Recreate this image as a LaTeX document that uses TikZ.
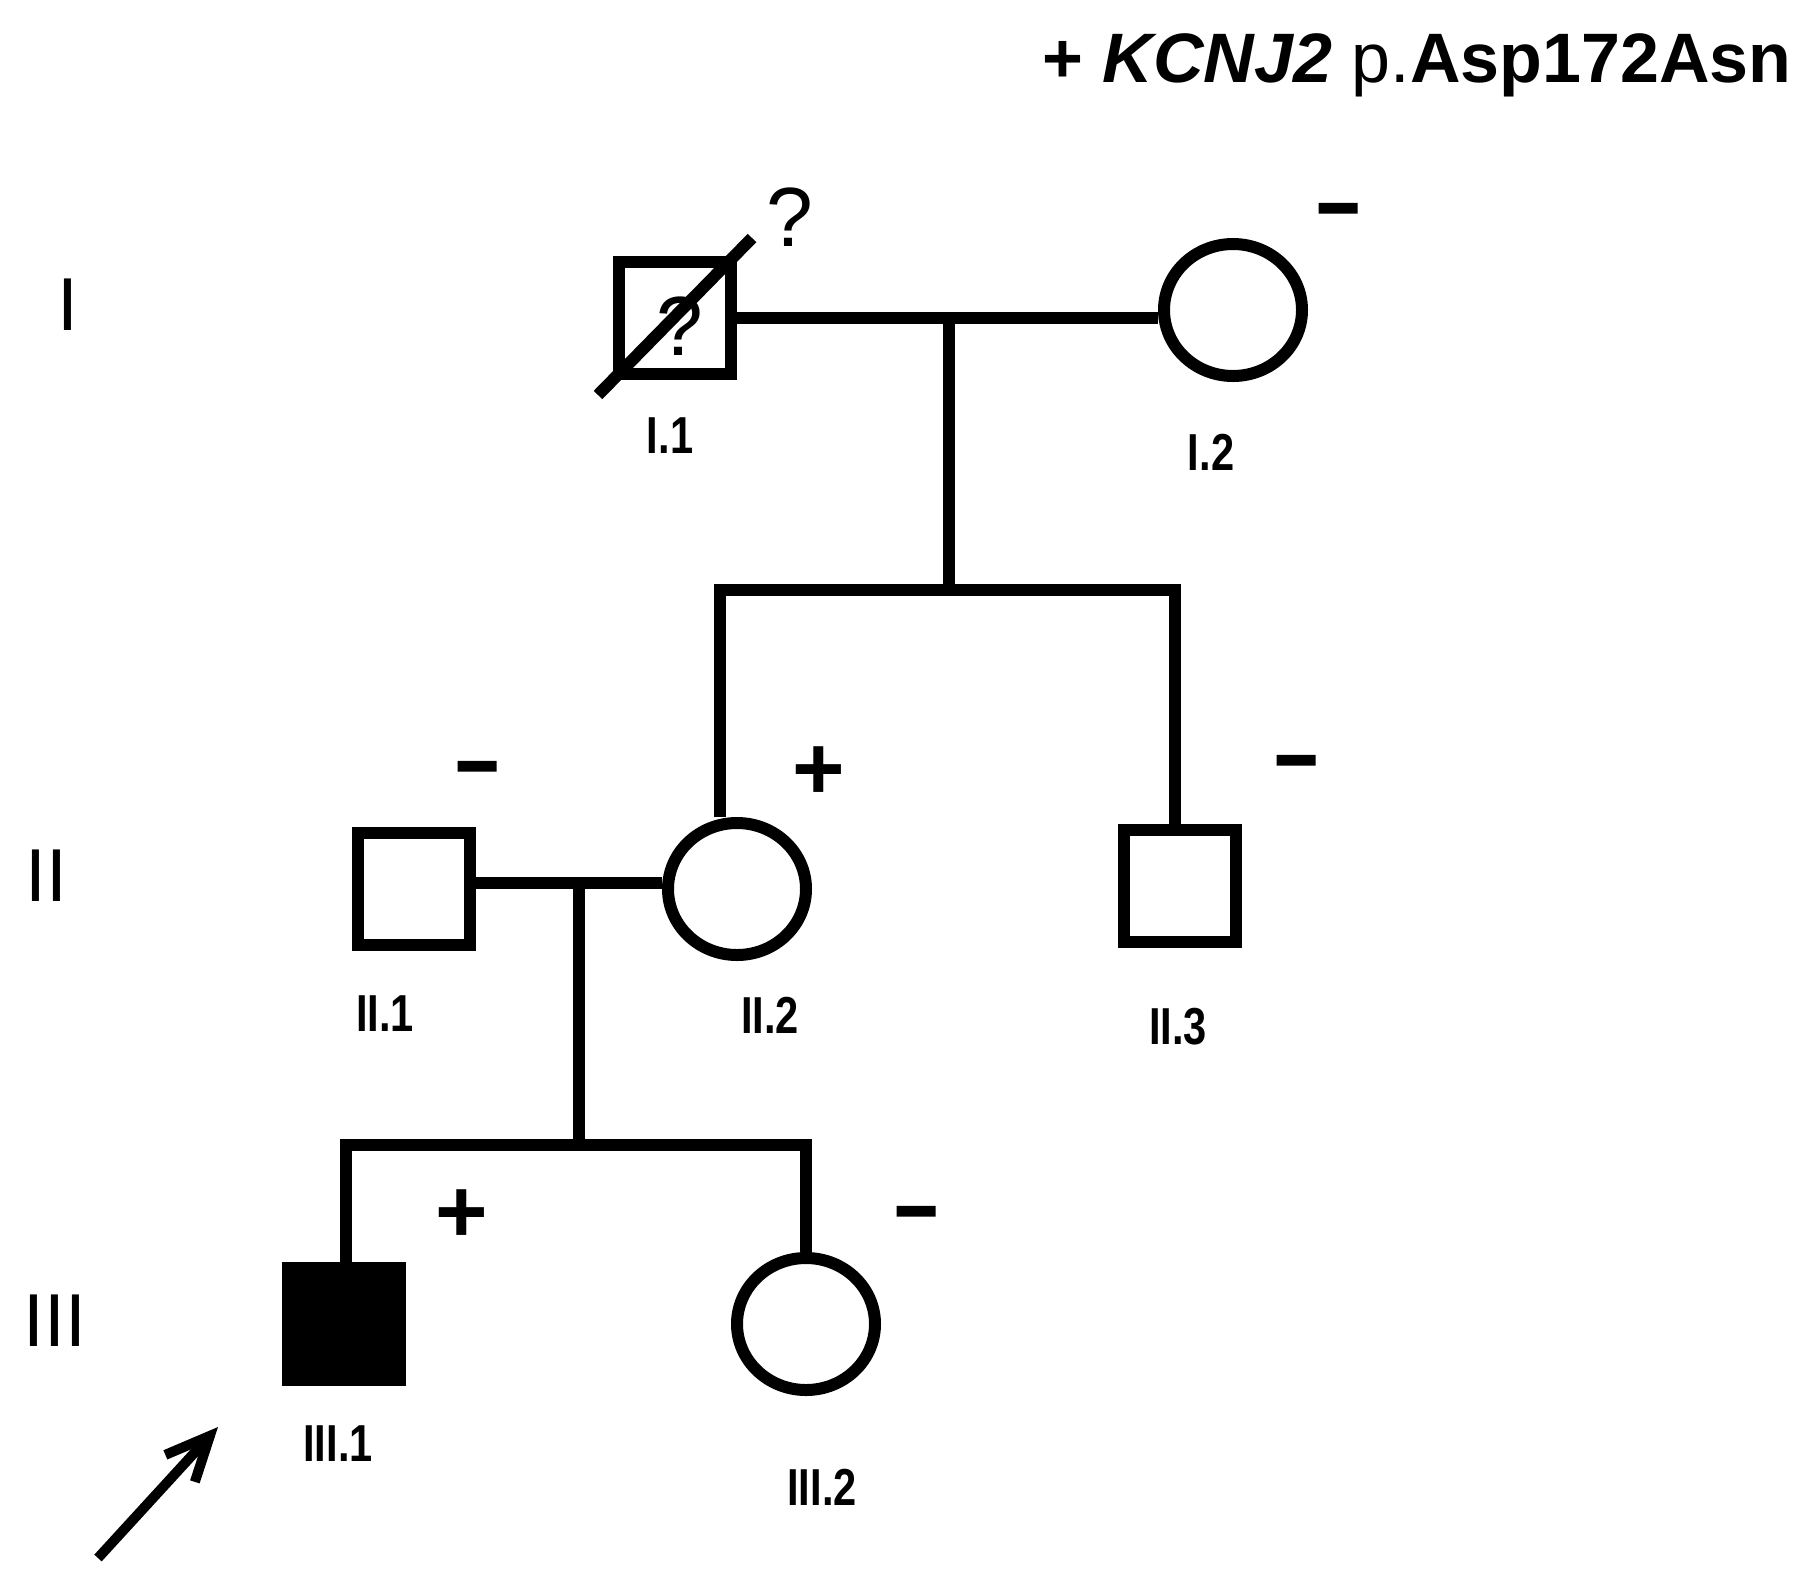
\documentclass[tikz,border=0pt]{standalone}
\usepackage{fontspec}
\setmainfont{Liberation Sans}
\newfontfamily\idfont[FakeStretch=0.8]{Liberation Sans Bold}
\newfontfamily\signfont[FakeBold=4]{Liberation Sans Bold}
\usetikzlibrary{shapes.geometric,arrows.meta}

\tikzset{
	male/.style={draw, rectangle, line width=6pt, minimum size=56pt, inner sep=0pt},
	female/.style={draw, ellipse, line width=6pt, minimum width=69pt, minimum height=66pt, inner sep=0pt},
	affected/.style={fill=black},
	gen/.style={inner sep=0pt, font=\fontsize{37.5pt}{40pt}\selectfont},
	idlabel/.style={inner sep=0pt, font=\idfont\fontsize{26pt}{30pt}\selectfont},
	plussign/.style={inner sep=0pt, text height=0.62em, text depth=0pt, font=\bfseries\fontsize{45pt}{48pt}\selectfont},
	minussign/.style={inner sep=0pt, text height=0.62em, text depth=0pt, font=\signfont\fontsize{36pt}{40pt}\selectfont},
	query/.style={inner sep=0pt, font=\fontsize{42pt}{44pt}\selectfont},
	link/.style={line width=6pt}
}

\begin{document}
\begin{tikzpicture}[x=0.5pt, y=-0.5pt]
		\useasboundingbox (0,0) rectangle (1815,1591);

		\node[anchor=base west, inner sep=0pt, font=\fontsize{35pt}{40pt}\selectfont] (title) at (1042,82) {\textbf{+ \textit{KCNJ2}} p.\textbf{Asp172Asn}};

		\node[gen] (g1) at (68,305) {I};
		\node[gen] (g2) at (46,876) {II};
		\node[gen] (g3) at (55,1321) {III};

		% generation I
		\node[male] (i1) at (675,318) {};
		\node[query] (q1) at (680,326) {?};
		\coordinate (d1) at (598,395);
		\coordinate (d2) at (752,238);
		\draw[link] (d1) -- (d2);
		\node[query] (q2) at (790,217) {?};
		\node[female] (i2) at (1233,310) {};
		\node[minussign] (s-i2) at (1338,226) {−};
		\node[idlabel] (l-i1) at (670,436) {I.1};
		\node[idlabel] (l-i2) at (1211,452) {I.2};

		% generation II
		\node[male] (ii1) at (414,889) {};
		\node[female] (ii2) at (737,889) {};
		\node[male] (ii3) at (1180,886) {};
		\node[minussign] (s-ii1) at (477,784) {−};
		\node[plussign] (s-ii2) at (819,793) {+};
		\node[minussign] (s-ii3) at (1296,778) {−};
		\node[idlabel] (l-ii1) at (385,1014) {II.1};
		\node[idlabel] (l-ii2) at (770,1015) {II.2};
		\node[idlabel] (l-ii3) at (1178,1027) {II.3};

		% generation III
		\node[male, affected] (iii1) at (344,1324) {};
		\node[female] (iii2) at (806,1324) {};
		\node[plussign] (s-iii1) at (462,1236) {+};
		\node[minussign] (s-iii2) at (916,1229) {−};
		\node[idlabel] (l-iii1) at (338,1444) {III.1};
		\node[idlabel] (l-iii2) at (822,1487) {III.2};

		% lines of descent
		\coordinate (m1) at (949,318);
		\coordinate (s1) at (949,590);
		\coordinate (s1l) at (720,590);
		\coordinate (s1r) at (1175,590);
		\draw[link] (i1.east) -- (i1.east -| i2.west);
		\draw[link] (m1) -- (s1);
		\draw[link] (s1l |- ii2.north) -- (s1l) -- (s1r) -- (s1r |- ii3.north);

		\coordinate (m2) at (579,883);
		\coordinate (s2) at (579,1145);
		\coordinate (s2l) at (346,1145);
		\coordinate (s2r) at (806,1145);
		\draw[link] (m2 -| ii1.east) -- (m2 -| ii2.west);
		\draw[link] (m2) -- (s2);
		\draw[link] (s2l |- iii1.north) -- (s2l) -- (s2r) -- (s2r |- iii2.north);

		% proband
		\coordinate (pb1) at (98,1558);
		\coordinate (pb2) at (218,1427);
		\draw[line width=5pt, -{Straight Barb[length=22pt, width=20pt]}] (pb1) -- (pb2);
	\end{tikzpicture}
\end{document}
